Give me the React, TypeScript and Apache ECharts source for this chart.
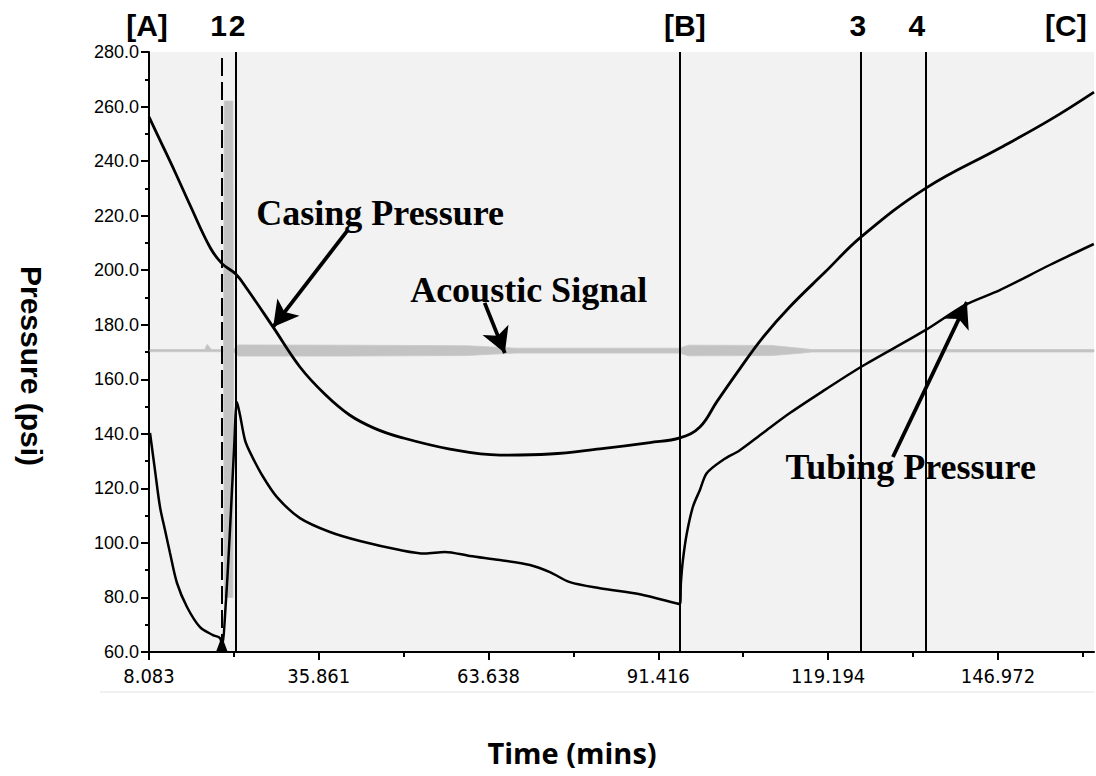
import React, { useEffect, useRef } from "react";
import * as echarts from "echarts";

// ---------- data ----------
const T0 = 8.083; // first x tick (minutes)
const X_STEP = 27.778;
const X_END = 162.7;
const xTickLabels = ["8.083", "35.861", "63.638", "91.416", "119.194", "146.972"];
const xMinorTimes = [21.972, 49.75, 77.527, 105.305, 133.083, 160.861];
const yTickLabels = ["60.0", "80.0", "100.0", "120.0", "140.0", "160.0", "180.0", "200.0", "220.0", "240.0", "260.0", "280.0"];

const casingTime = [8.083, 9.88, 12.34, 14.79, 18.06, 20.03, 22.31, 24.11, 28.37, 32.78, 36.87, 40.96, 45.0, 49.14, 57.32, 65.5, 73.68, 81.86, 90.04, 94.95, 98.22, 101.0, 104.8, 108.5, 112.9, 118.7, 124.6, 135.2, 147.3, 155.5, 162.7];
const casingPsi = [256.2, 247.7, 236.0, 223.9, 208.4, 202.4, 198.5, 193.2, 179.2, 164.5, 154.5, 146.8, 142.0, 138.8, 134.4, 132.2, 132.6, 134.5, 136.8, 138.5, 142.5, 151.8, 164.0, 175.3, 186.5, 199.3, 212.2, 230.1, 244.8, 255.1, 265.3];

const tubingTime = [8.25, 9.06, 9.88, 10.7, 11.52, 12.66, 14.3, 16.43, 18.55, 19.7, 20.03, 20.68, 21.33, 21.99, 22.48, 22.97, 23.79, 24.6, 26.57, 29.02, 32.78, 37.69, 42.6, 49.14, 53.23, 56.5, 60.59, 65.5, 70.41, 73.68, 76.95, 81.86, 88.4, 94.95, 95.11, 95.44, 96.09, 97.07, 98.22, 99.36, 101.98, 104.76, 108.53, 112.94, 118.67, 124.55, 135.19, 141.57, 147.29, 155.47, 162.67];
const tubingPsi = [140.3, 126.7, 113.2, 104.7, 96.3, 85.3, 76.5, 69.1, 66.2, 65.1, 62.5, 79.0, 104.7, 134.0, 151.7, 146.9, 137.7, 133.3, 124.9, 116.8, 109.1, 104.0, 100.7, 97.4, 96.1, 96.7, 95.2, 93.7, 91.9, 89.3, 85.6, 83.4, 81.2, 77.6, 85.3, 93.7, 103.6, 113.2, 119.4, 125.6, 130.4, 134.0, 140.3, 147.6, 156.1, 164.5, 178.1, 187.2, 192.7, 201.9, 209.6];

// acoustic signal envelope (time, low, high)
const acousticTime = [8.25, 17.2, 17.6, 18.3, 20.3, 20.4, 21.8, 21.9, 22.7, 40.0, 60.0, 68.0, 94.9, 96.3, 110.0, 114.5, 116.5, 162.7];
const acousticLow = [170.1, 170.1, 170.1, 170.1, 170.1, 80.0, 80.0, 170.1, 168.5, 168.5, 168.7, 169.6, 169.6, 168.6, 168.7, 169.5, 170.0, 170.0];
const acousticHigh = [170.9, 170.9, 172.8, 170.9, 170.9, 262.0, 262.0, 170.9, 172.6, 172.5, 172.3, 171.4, 171.4, 172.5, 172.4, 171.4, 170.9, 170.9];

// event markers
const eventTimes = [20.0, 22.3, 94.95, 124.6, 135.2];
const eventDashed = [true, false, false, false, false];
const topLabels = ["[A]", "1", "2", "[B]", "3", "4", "[C]"];
const topLabelTimes = [7.76, 19.45, 22.48, 95.76, 124.07, 133.72, 158.1];

// annotations
const annoText = ["Casing Pressure", "Acoustic Signal", "Tubing Pressure"];
const annoTime = [45.9, 70.2, 132.7];
const annoPsi = [221.0, 192.7, 127.8];
const arrowFromTime = [40.6, 63.0, 129.8];
const arrowFromPsi = [214.7, 188.0, 131.5];
const arrowToTime = [28.4, 66.3, 141.9];
const arrowToPsi = [179.2, 169.6, 188.3];

const triangleTime = 20.0;
const trianglePsi = 62.8;

// ---------- helpers ----------
const pts = (ts: number[], vs: number[]) => ts.map((t, i) => [t - T0, vs[i]]);
const majorOffsets = xTickLabels.map((_, i) => i * X_STEP);
const minorOffsets = xMinorTimes.map((t) => t - T0);

export default function App() {
  const ref = useRef<HTMLDivElement>(null);
  useEffect(() => {
    document.body.style.margin = "0";
    if (!ref.current) return;
    const chart = echarts.init(ref.current, null, { renderer: "svg" });
    const narrow = '"Liberation Sans Narrow", "DejaVu Sans Condensed", "Liberation Sans", sans-serif';
    const option: any = {
      animation: false,
      backgroundColor: "#ffffff",
      grid: {
        left: 149,
        right: 2,
        top: 52,
        bottom: 124,
        show: true,
        backgroundColor: "#f2f2f2",
        borderWidth: 0,
      },
      xAxis: [
        {
          type: "value",
          min: 0,
          max: X_END - T0,
          position: "bottom",
          axisLine: { show: true, onZero: false, lineStyle: { color: "#000", width: 2 } },
          axisTick: { show: true, customValues: majorOffsets, length: 8, lineStyle: { color: "#000", width: 2 } },
          axisLabel: {
            customValues: majorOffsets,
            formatter: (v: number) => xTickLabels[Math.round(v / X_STEP)] ?? "",
            fontFamily: narrow,
            fontSize: 20,
            color: "#000",
            margin: 14,
          },
          splitLine: { show: false },
        },
        {
          type: "value",
          min: 0,
          max: X_END - T0,
          position: "bottom",
          axisLine: { show: false },
          axisTick: { show: true, customValues: minorOffsets, length: 5, lineStyle: { color: "#000", width: 2 } },
          axisLabel: { show: false },
          splitLine: { show: false },
        },
      ],
      yAxis: {
        type: "value",
        min: 60,
        max: 280,
        interval: 20,
        axisLine: { show: true, onZero: false, lineStyle: { color: "#000", width: 2 } },
        axisTick: { show: true, length: 8, lineStyle: { color: "#000", width: 2 } },
        minorTick: { show: true, splitNumber: 2, length: 4, lineStyle: { color: "#000", width: 2 } },
        axisLabel: {
          formatter: (v: number) => yTickLabels[Math.round((v - 60) / 20)] ?? "",
          fontFamily: '"Liberation Sans", Arial, sans-serif',
          fontSize: 18,
          color: "#000",
          margin: 10,
        },
        splitLine: { show: false },
        minorSplitLine: { show: false },
      },
      series: [
        {
          type: "custom",
          name: "Acoustic Signal",
          silent: true,
          z: 1,
          data: [[0, 170]],
          renderItem: (params: any, api: any) => {
            const upper = acousticTime.map((t, i) => api.coord([t - T0, acousticHigh[i]]));
            const lower = acousticTime.map((t, i) => api.coord([t - T0, acousticLow[i]])).reverse();
            return {
              type: "polygon",
              shape: { points: upper.concat(lower) },
              style: { fill: "#c3c3c3", stroke: "#c8c8c8", lineWidth: 0.8 },
            };
          },
        },
        {
          type: "line",
          name: "Casing Pressure",
          z: 3,
          data: pts(casingTime, casingPsi),
          showSymbol: false,
          symbol: "none",
          smooth: 0.4,
          lineStyle: { color: "#000", width: 2.8 },
          markLine: {
            silent: true,
            symbol: ["none", "arrow"],
            symbolSize: [21, 25],
            label: { show: false },
            lineStyle: { color: "#000", width: 3.8, type: "solid" },
            data: arrowFromTime.map((t, i) => [
              { coord: [t - T0, arrowFromPsi[i]] },
              { coord: [arrowToTime[i] - T0, arrowToPsi[i]] },
            ]),
          },
        },
        {
          type: "line",
          name: "Tubing Pressure",
          z: 3,
          data: pts(tubingTime, tubingPsi),
          showSymbol: false,
          symbol: "none",
          smooth: 0.3,
          lineStyle: { color: "#000", width: 2.5 },
          markLine: {
            silent: true,
            symbol: ["none", "none"],
            label: { show: false },
            data: eventTimes.map((t, i) => ({
              xAxis: t - T0,
              lineStyle: { color: "#000", width: 2, type: eventDashed[i] ? [18, 6] : "solid" },
            })),
          },
          markPoint: {
            silent: true,
            data: [
              {
                coord: [triangleTime - T0, trianglePsi],
                symbol: "triangle",
                symbolSize: [12, 16],
                itemStyle: { color: "#000" },
                label: { show: false },
              },
            ],
          },
        },
      ],
    };
    chart.setOption(option);

    const graphics: any[] = [];
    topLabels.forEach((txt, i) => {
      const p = chart.convertToPixel({ gridIndex: 0 }, [topLabelTimes[i] - T0, 200]) as number[];
      graphics.push({
        type: "text",
        x: p[0],
        y: 25,
        style: {
          text: txt,
          font: 'bold 30px "Liberation Sans", Arial, sans-serif',
          fill: "#000",
          textAlign: "center",
          textVerticalAlign: "middle",
          align: "center",
          verticalAlign: "middle",
        },
      });
    });
    annoText.forEach((txt, i) => {
      const p = chart.convertToPixel({ gridIndex: 0 }, [annoTime[i] - T0, annoPsi[i]]) as number[];
      graphics.push({
        type: "text",
        x: p[0],
        y: p[1],
        z: 10,
        style: {
          text: txt,
          font: 'bold 36px "Liberation Serif", "Times New Roman", serif',
          fill: "#000",
          textAlign: "center",
          textVerticalAlign: "middle",
          align: "center",
          verticalAlign: "middle",
        },
      });
    });
    graphics.push({
      type: "text",
      x: 31,
      y: 366,
      rotation: -Math.PI / 2,
      style: {
        text: "Pressure (psi)",
        font: 'bold 30px "Liberation Sans", Arial, sans-serif',
        fill: "#000",
        textAlign: "center",
        textVerticalAlign: "middle",
        align: "center",
        verticalAlign: "middle",
      },
    });
    graphics.push({
      type: "text",
      x: 572,
      y: 752,
      style: {
        text: "Time (mins)",
        font: 'bold 29px "Open Sans", "Liberation Sans", sans-serif',
        fill: "#000",
        textAlign: "center",
        textVerticalAlign: "middle",
        align: "center",
        verticalAlign: "middle",
      },
    });
    graphics.push({
      type: "line",
      shape: { x1: 100, y1: 692, x2: 1094, y2: 692 },
      style: { stroke: "#e2e2e2", lineWidth: 1 },
    });
    chart.setOption({ graphic: graphics });

    return () => chart.dispose();
  }, []);
  return <div ref={ref} style={{ width: 1096, height: 776 }} />;
}
